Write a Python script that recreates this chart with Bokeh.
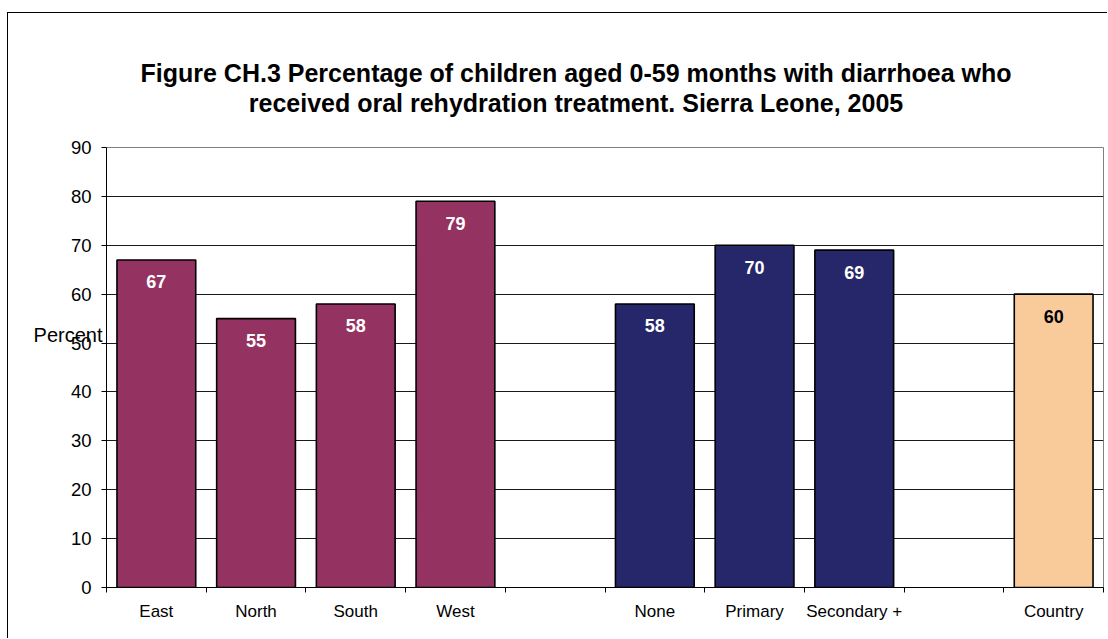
from bokeh.plotting import figure
from bokeh.models import Range1d, FixedTicker, Title, LinearAxis, ColumnDataSource
from bokeh.core.properties import value
from bokeh.embed import file_html
from bokeh.resources import INLINE

# Bar groups (one empty slot is left between neighbouring groups)
region_names = ["East", "North", "South", "West"]
region_values = [67, 55, 58, 79]
education_names = ["None", "Primary", "Secondary +"]
education_values = [58, 70, 69]
total_names = ["Country"]
total_values = [60]

group_colors = ["#943262", "#26266A", "#F9CB9B"]
label_colors = ["white", "white", "black"]
y_ticks = [0, 10, 20, 30, 40, 50, 60, 70, 80, 90]

FONT = "Liberation Sans"
TITLE = ("Figure CH.3 Percentage of children aged 0-59 months with diarrhoea who\n"
         "received oral rehydration treatment. Sierra Leone, 2005")

groups = [(region_names, region_values),
          (education_names, education_values),
          (total_names, total_values)]

names, vals, xs, fills, txt_cols = [], [], [], [], []
slot = 0
for gi, (gnames, gvals) in enumerate(groups):
    for n, v in zip(gnames, gvals):
        names.append(n)
        vals.append(v)
        xs.append(slot + 0.5)
        fills.append(group_colors[gi])
        txt_cols.append(label_colors[gi])
        slot += 1
    if gi < len(groups) - 1:
        slot += 1
n_slots = slot

src = ColumnDataSource(dict(x=xs, top=vals, name=names, fill=fills,
                            tcol=txt_cols, label=[str(v) for v in vals]))

p = figure(width=1100, height=626, output_backend="svg", toolbar_location=None,
           x_range=Range1d(0, n_slots), y_range=Range1d(0, 90),
           min_border_left=98, min_border_right=5, min_border_top=134,
           min_border_bottom=52)
p.styles = {"border-left": "1px solid #000", "border-top": "1px solid #000",
            "margin-left": "7px", "margin-top": "12px"}

p.vbar(x="x", top="top", width=0.79, bottom=0, source=src,
       fill_color="fill", line_color="black", line_width=1.6)
p.text(x="x", y="top", text="label", source=src, text_color="tcol",
       text_font=value(FONT), text_font_style="bold", text_font_size="18px",
       text_align="center", text_baseline="middle", y_offset=22)

# x axis: names under the bars, small ticks between the slots
ax = p.xaxis[0]
ax.ticker = FixedTicker(ticks=xs, minor_ticks=list(range(n_slots + 1)))
ax.major_label_overrides = {x: n for x, n in zip(xs, names)}
ax.major_tick_out = 0
ax.major_tick_in = 0
ax.minor_tick_out = 5
ax.minor_tick_in = 0
ax.minor_tick_line_color = "black"
ax.axis_line_color = "black"
ax.major_label_standoff = 9
ax.major_label_text_font = FONT
ax.major_label_text_font_size = "17px"
ax.major_label_text_color = "black"

ay = p.yaxis[0]
ay.ticker = FixedTicker(ticks=y_ticks)
ay.major_tick_out = 5
ay.major_tick_in = 0
ay.minor_tick_line_color = None
ay.axis_line_color = "black"
ay.major_tick_line_color = "black"
ay.major_label_standoff = 10
ay.major_label_text_font = FONT
ay.major_label_text_font_size = "18.5px"
ay.major_label_text_color = "black"

# "Percent" caption: a bare axis whose label sits over the value ticks,
# raised a little above the middle of the axis by the trailing blank lines
cap = LinearAxis(axis_label="Percent\n\n\n", axis_label_orientation="horizontal",
                 ticker=FixedTicker(ticks=[]),
                 axis_line_color=None, major_tick_line_color=None,
                 minor_tick_line_color=None, major_label_text_font_size="0px",
                 axis_label_standoff=-35, axis_label_text_font=FONT,
                 axis_label_text_font_style="normal",
                 axis_label_text_line_height=1.0,
                 axis_label_text_font_size="20px", axis_label_text_color="black")
p.add_layout(cap, "left")

p.xgrid.visible = False
p.ygrid.ticker = FixedTicker(ticks=y_ticks)
p.ygrid.grid_line_color = "#1a1a1a"
p.ygrid.grid_line_width = 1
p.outline_line_color = "#808080"
p.outline_line_width = 1
p.background_fill_color = "white"
p.border_fill_color = "white"

# two-line bold title, lines centred on each other
p.add_layout(Title(text=TITLE, align="left", offset=34, standoff=60,
                   text_align="center",
                   text_font=FONT, text_font_style="bold",
                   text_font_size="25px", text_line_height=1.08,
                   text_color="black"), "above")

open("out.html", "w").write(file_html(p, INLINE))
